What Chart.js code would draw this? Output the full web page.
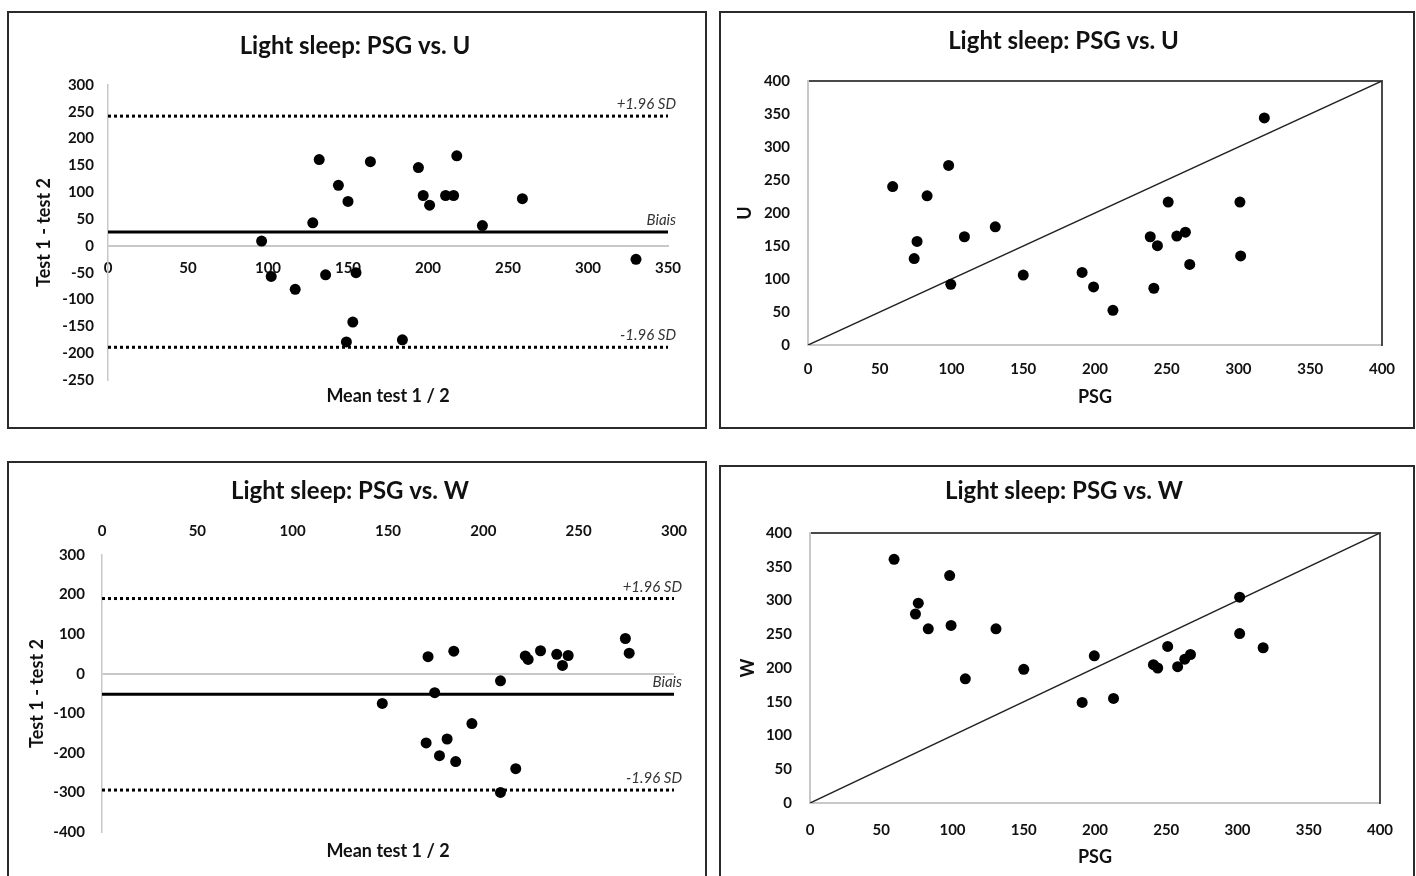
<!DOCTYPE html>
<html>
<head>
<meta charset="utf-8">
<title>Light sleep: PSG vs. U / W</title>
<script src="https://cdn.jsdelivr.net/npm/chart.js@4/dist/chart.umd.min.js"></script>
<style>
  body { margin: 0; background: #fff; width: 1416px; height: 876px; overflow: hidden; position: relative; }
  .panel { position: absolute; border: 2px solid #2b2b2b; background: #fff; }
  #p1 { left: 7px; top: 11px; width: 696px; height: 414px; }
  #p2 { left: 719px; top: 11px; width: 692px; height: 414px; }
  #p3 { left: 7px; top: 461px; width: 696px; height: 428px; }
  #p4 { left: 719px; top: 465px; width: 692px; height: 428px; }
</style>
</head>
<body>
<div class="panel" id="p1"><canvas id="c1"></canvas></div>
<div class="panel" id="p2"><canvas id="c2"></canvas></div>
<div class="panel" id="p3"><canvas id="c3"></canvas></div>
<div class="panel" id="p4"><canvas id="c4"></canvas></div>
<script>
// Bland-Altman, PSG vs. U (mean of the two tests, test 1 - test 2)
const baU_mean = [96, 102, 117, 128, 132, 136, 144, 150, 149, 153, 155, 164, 184, 194, 197, 201, 211, 216, 218, 234, 259, 330];
const baU_diff = [9, -57, -81, 43, 161, -54, 113, 83, -179, -142, -50, 157, -175, 146, 94, 76, 94, 94, 168, 38, 88, -25];
const baU_bias = 26;
const baU_upper = 242;
const baU_lower = -189;

// PSG vs. U scatter
const psgU = [59, 74, 76, 83, 98, 99.5, 109, 130.5, 150, 191, 199, 212.5, 238.5, 241, 243.5, 251, 257, 263, 266, 301, 301.5, 318];
const uVals = [240, 131, 157, 226, 272, 92, 164, 179, 106, 110, 88, 52.5, 164, 86, 150.5, 216.5, 165, 171, 122, 216.5, 135, 344];

// Bland-Altman, PSG vs. W
const baW_mean = [147, 171, 174.5, 184.5, 170, 181, 177, 185.5, 194, 209, 209, 217, 222, 223.5, 230, 238.5, 241.5, 244.5, 274.5, 276.5];
const baW_diff = [-75, 43, -48, 57, -175, -165, -207, -222, -126, -18, -300, -240, 45, 36, 58, 49, 21, 46, 89, 52];
const baW_bias = -52;
const baW_upper = 190;
const baW_lower = -294;

// PSG vs. W scatter
const psgW = [59, 74, 76, 83, 98, 99, 109, 130.5, 150, 191, 199.5, 213, 241, 244, 251, 258, 263, 267, 301.5, 301.5, 318];
const wVals = [361, 280, 296, 258, 337, 263, 184, 258, 198, 149, 218, 155, 205, 200, 232, 202, 213, 220, 305, 251, 230];

const limitTexts = ['+1.96 SD', 'Biais', '-1.96 SD'];

Chart.defaults.font.family = 'Lato, "Open Sans", sans-serif';
Chart.defaults.color = '#111';

const ink = '#111';
const axisGrey = '#c8c8c8';
const tickFont = { size: 15, weight: 'bold' };
const axisTitleFont = { size: 18, weight: 'bold' };
const titleFont = { size: 24, weight: 'bold' };

function pts(xs, ys) {
    return xs.map((x, i) => ({ x: x, y: ys[i] }));
}

// writes the italic labels just above the bias / limit lines
function limitLabels(values) {
    return {
        id: 'limitLabels',
        afterDatasetsDraw(chart) {
            const { ctx, chartArea, scales } = chart;
            ctx.save();
            ctx.font = 'italic 15px Lato, sans-serif';
            ctx.fillStyle = '#333';
            ctx.textAlign = 'right';
            ctx.textBaseline = 'alphabetic';
            values.forEach((v, i) => {
                const y = scales.y.getPixelForValue(v);
                ctx.fillText(limitTexts[i], chartArea.right + 8, y - 7);
            });
            ctx.restore();
        }
    };
}

function hLine(value, xmax, dashed, width) {
    return {
        data: [{ x: 0, y: value }, { x: xmax, y: value }],
        showLine: true,
        borderColor: '#000',
        borderWidth: width,
        borderDash: dashed ? [3, 3] : [],
        pointRadius: 0
    };
}

function dots(data) {
    return { data: data, backgroundColor: '#000', borderWidth: 0, pointRadius: 5.5 };
}

// empty axis used only to hold space on the right of the plot
function spacer(width) {
    return {
        type: 'linear', axis: 'y', position: 'right', min: 0, max: 1,
        ticks: { display: false }, grid: { display: false, drawTicks: false }, border: { display: false },
        afterFit: s => { s.width = width; }
    };
}

const noGrid = { display: false, drawTicks: false };
const baseOptions = {
    animation: false,
    responsive: true,
    maintainAspectRatio: false,
    events: []
};

// ---- panel 1: Bland-Altman U ----
new Chart(document.getElementById('c1'), {
    type: 'scatter',
    data: {
        datasets: [
            dots(pts(baU_mean, baU_diff)),
            hLine(baU_bias, 350, false, 3),
            hLine(baU_upper, 350, true, 3),
            hLine(baU_lower, 350, true, 3)
        ]
    },
    options: {
        ...baseOptions,
        layout: { padding: { left: 0, right: 4, top: 0, bottom: 0 } },
        plugins: {
            legend: { display: false },
            tooltip: { enabled: false },
            title: { display: true, text: 'Light sleep: PSG vs. U', font: titleFont, color: ink, padding: { top: 18.6, bottom: 24.6 } }
        },
        scales: {
            x: {
                type: 'linear', position: { y: 0 }, min: 0, max: 350,
                ticks: { stepSize: 50, padding: 13, font: tickFont, color: ink, autoSkip: false, maxRotation: 0 },
                grid: noGrid,
                border: { color: axisGrey, width: 2 }
            },
            xb: {
                type: 'linear', axis: 'x', position: 'bottom', min: 0, max: 350,
                ticks: { display: false }, grid: noGrid, border: { display: false },
                title: { display: true, text: 'Mean test 1 / 2', font: axisTitleFont, color: ink, padding: { top: 0, bottom: 20.2 } },
                afterFit: s => { s.height = 47; }
            },
            y: {
                type: 'linear', position: 'left', min: -250, max: 300,
                ticks: { stepSize: 50, padding: 14, font: tickFont, color: ink },
                grid: noGrid,
                border: { color: axisGrey, width: 1.5 },
                title: { display: true, text: 'Test 1 - test 2', font: axisTitleFont, color: ink, padding: { top: 24.2, bottom: 0 } },
                afterFit: s => { s.width = 99; }
            },
            yr: spacer(33)
        }
    },
    plugins: [limitLabels([baU_upper, baU_bias, baU_lower])]
});

// ---- panel 2: PSG vs U ----
new Chart(document.getElementById('c2'), {
    type: 'scatter',
    data: {
        datasets: [
            dots(pts(psgU, uVals)),
            { data: [{ x: 0, y: 0 }, { x: 400, y: 400 }], showLine: true, borderColor: '#222', borderWidth: 1.5, pointRadius: 0 }
        ]
    },
    options: {
        ...baseOptions,
        layout: { padding: { left: 0, right: 7, top: 0, bottom: 0 } },
        plugins: {
            legend: { display: false },
            tooltip: { enabled: false },
            title: { display: true, text: 'Light sleep: PSG vs. U', font: titleFont, color: ink, padding: { top: 13.6, bottom: 25.6 } }
        },
        scales: {
            x: {
                type: 'linear', position: 'bottom', min: 0, max: 400,
                ticks: { stepSize: 50, padding: 15, font: tickFont, color: ink, autoSkip: false, maxRotation: 0 },
                grid: noGrid,
                border: { color: axisGrey, width: 2 },
                title: { display: true, text: 'PSG', font: axisTitleFont, color: ink, padding: { top: 0, bottom: 19.2 } },
                afterFit: s => { s.height = 82; }
            },
            x2: {
                type: 'linear', axis: 'x', position: 'top', min: 0, max: 400,
                ticks: { display: false }, grid: noGrid,
                border: { color: '#4a4a4a', width: 2 },
                afterFit: s => { s.height = 0; }
            },
            y: {
                type: 'linear', position: 'left', min: 0, max: 400,
                ticks: { stepSize: 50, padding: 18, font: tickFont, color: ink },
                grid: noGrid,
                border: { color: axisGrey, width: 2 },
                title: { display: true, text: 'U', font: axisTitleFont, color: ink, padding: { top: 13.2, bottom: 0 } },
                afterFit: s => { s.width = 87; }
            },
            y2: {
                type: 'linear', axis: 'y', position: 'right', min: 0, max: 400,
                ticks: { display: false }, grid: noGrid,
                border: { color: '#4a4a4a', width: 2 },
                afterFit: s => { s.width = 24; }
            }
        }
    }
});

// ---- panel 3: Bland-Altman W ----
new Chart(document.getElementById('c3'), {
    type: 'scatter',
    data: {
        datasets: [
            dots(pts(baW_mean, baW_diff)),
            hLine(baW_bias, 300, false, 3),
            hLine(baW_upper, 300, true, 3),
            hLine(baW_lower, 300, true, 3)
        ]
    },
    options: {
        ...baseOptions,
        layout: { padding: { left: 0, right: 14, top: 0, bottom: 0 } },
        plugins: {
            legend: { display: false },
            tooltip: { enabled: false },
            title: { display: true, text: 'Light sleep: PSG vs. W', font: titleFont, color: ink, padding: { top: 13.6, bottom: 0 } }
        },
        scales: {
            x: {
                type: 'linear', position: 'top', min: 0, max: 300,
                ticks: { stepSize: 50, padding: 15, font: tickFont, color: ink, autoSkip: false, maxRotation: 0 },
                grid: noGrid,
                border: { display: false },
                afterFit: s => { s.height = 49.6; }
            },
            xb: {
                type: 'linear', axis: 'x', position: 'bottom', min: 0, max: 300,
                ticks: { display: false }, grid: noGrid, border: { display: false },
                title: { display: true, text: 'Mean test 1 / 2', font: axisTitleFont, color: ink, padding: { top: 0, bottom: 29.2 } },
                afterFit: s => { s.height = 59; }
            },
            y: {
                type: 'linear', position: 'left', min: -400, max: 300,
                ticks: { stepSize: 100, padding: 17, font: tickFont, color: ink },
                grid: {
                    drawTicks: false,
                    lineWidth: 2,
                    color: c => (c.tick && c.tick.value === 0) ? axisGrey : 'rgba(0,0,0,0)'
                },
                border: { color: axisGrey, width: 1.5 },
                title: { display: true, text: 'Test 1 - test 2', font: axisTitleFont, color: ink, padding: { top: 17.2, bottom: 0 } },
                afterFit: s => { s.width = 93; }
            },
            yr: spacer(17)
        }
    },
    plugins: [limitLabels([baW_upper, baW_bias, baW_lower])]
});

// ---- panel 4: PSG vs W ----
new Chart(document.getElementById('c4'), {
    type: 'scatter',
    data: {
        datasets: [
            dots(pts(psgW, wVals)),
            { data: [{ x: 0, y: 0 }, { x: 400, y: 400 }], showLine: true, borderColor: '#222', borderWidth: 1.5, pointRadius: 0 }
        ]
    },
    options: {
        ...baseOptions,
        layout: { padding: { left: 0, right: 6, top: 0, bottom: 0 } },
        plugins: {
            legend: { display: false },
            tooltip: { enabled: false },
            title: { display: true, text: 'Light sleep: PSG vs. W', font: titleFont, color: ink, padding: { top: 9.6, bottom: 27.6 } }
        },
        scales: {
            x: {
                type: 'linear', position: 'bottom', min: 0, max: 400,
                ticks: { stepSize: 50, padding: 18, font: tickFont, color: ink, autoSkip: false, maxRotation: 0 },
                grid: noGrid,
                border: { color: axisGrey, width: 2 },
                title: { display: true, text: 'PSG', font: axisTitleFont, color: ink, padding: { top: 0, bottom: 27.2 } },
                afterFit: s => { s.height = 92; }
            },
            x2: {
                type: 'linear', axis: 'x', position: 'top', min: 0, max: 400,
                ticks: { display: false }, grid: noGrid,
                border: { color: '#4a4a4a', width: 2 },
                afterFit: s => { s.height = 0; }
            },
            y: {
                type: 'linear', position: 'left', min: 0, max: 400,
                ticks: { stepSize: 50, padding: 18, font: tickFont, color: ink },
                grid: noGrid,
                border: { color: axisGrey, width: 2 },
                title: { display: true, text: 'W', font: axisTitleFont, color: ink, padding: { top: 16.2, bottom: 0 } },
                afterFit: s => { s.width = 89; }
            },
            y2: {
                type: 'linear', axis: 'y', position: 'right', min: 0, max: 400,
                ticks: { display: false }, grid: noGrid,
                border: { color: '#4a4a4a', width: 2 },
                afterFit: s => { s.width = 27; }
            }
        }
    }
});
</script>
</body>
</html>
